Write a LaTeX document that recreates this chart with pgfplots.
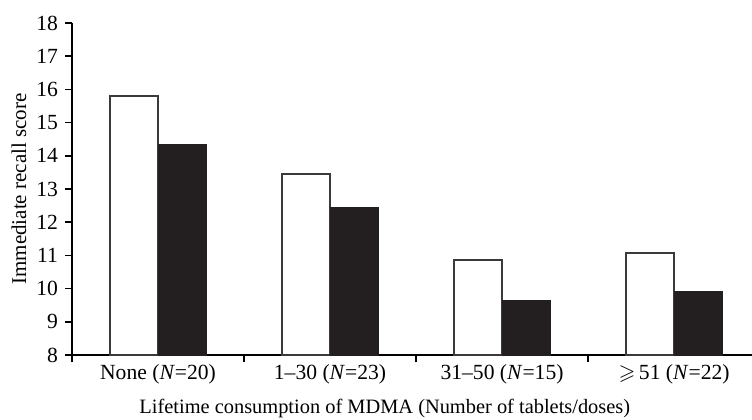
\documentclass[border=0pt]{standalone}
\usepackage{amssymb}
\usepackage{fontspec}
\setmainfont{Liberation Serif}
\usepackage{pgfplots}
\pgfplotsset{compat=1.18}
\definecolor{barblack}{HTML}{231F20}
\definecolor{edgegray}{HTML}{3A3A3A}
\begin{document}
\begin{tikzpicture}
\begin{axis}[
  scale only axis,
  width=340pt, height=166pt,
  xmin=0, xmax=3.953,
  ymin=8, ymax=18,
  ytick={8,9,...,18},
  xtick={0,1,2,3},
  xticklabels={},
  extra x ticks={0.5,1.5,2.5,3.5},
  extra x tick labels={None (\textit{N}=20),1--30 (\textit{N}=23),31--50 (\textit{N}=15),$\geqslant$\,51 (\textit{N}=22)},
  extra x tick style={major tick length=0pt, tick label style={yshift=-1pt}},
  axis x line*=bottom,
  axis y line*=left,
  axis line style={black, line width=0.8pt},
  tick style={black, line width=0.8pt},
  tick align=outside,
  major tick length=3.5pt,
  /pgf/number format/assume math mode=true,
  tick label style={font=\fontsize{10.8}{13}\selectfont},
  x label style={font=\fontsize{10.2}{12}\selectfont},
  y label style={font=\fontsize{10.5}{12}\selectfont},
  xlabel={Lifetime consumption of MDMA (Number of tablets/doses)},
  ylabel={Immediate recall score},
  x label style={at={(axis description cs:0.46,0)}, anchor=center, yshift=-26.5pt},
  y label style={at={(axis description cs:-0.078,0.5)}, anchor=center},
  clip=false,
]
\addplot[ybar, bar width=0.28, bar shift=-0.14, fill=white, draw=edgegray, line width=0.9pt]
  coordinates {(0.5,15.8) (1.5,13.45) (2.5,10.85) (3.5,11.08)};
\addplot[ybar, bar width=0.28, bar shift=0.14, fill=barblack, draw=barblack, line width=0.5pt]
  coordinates {(0.5,14.33) (1.5,12.45) (2.5,9.63) (3.5,9.92)};
\end{axis}
\pgfresetboundingbox
\useasboundingbox (-36pt,-32pt) rectangle (340pt,177.5pt);
\end{tikzpicture}
\end{document}
